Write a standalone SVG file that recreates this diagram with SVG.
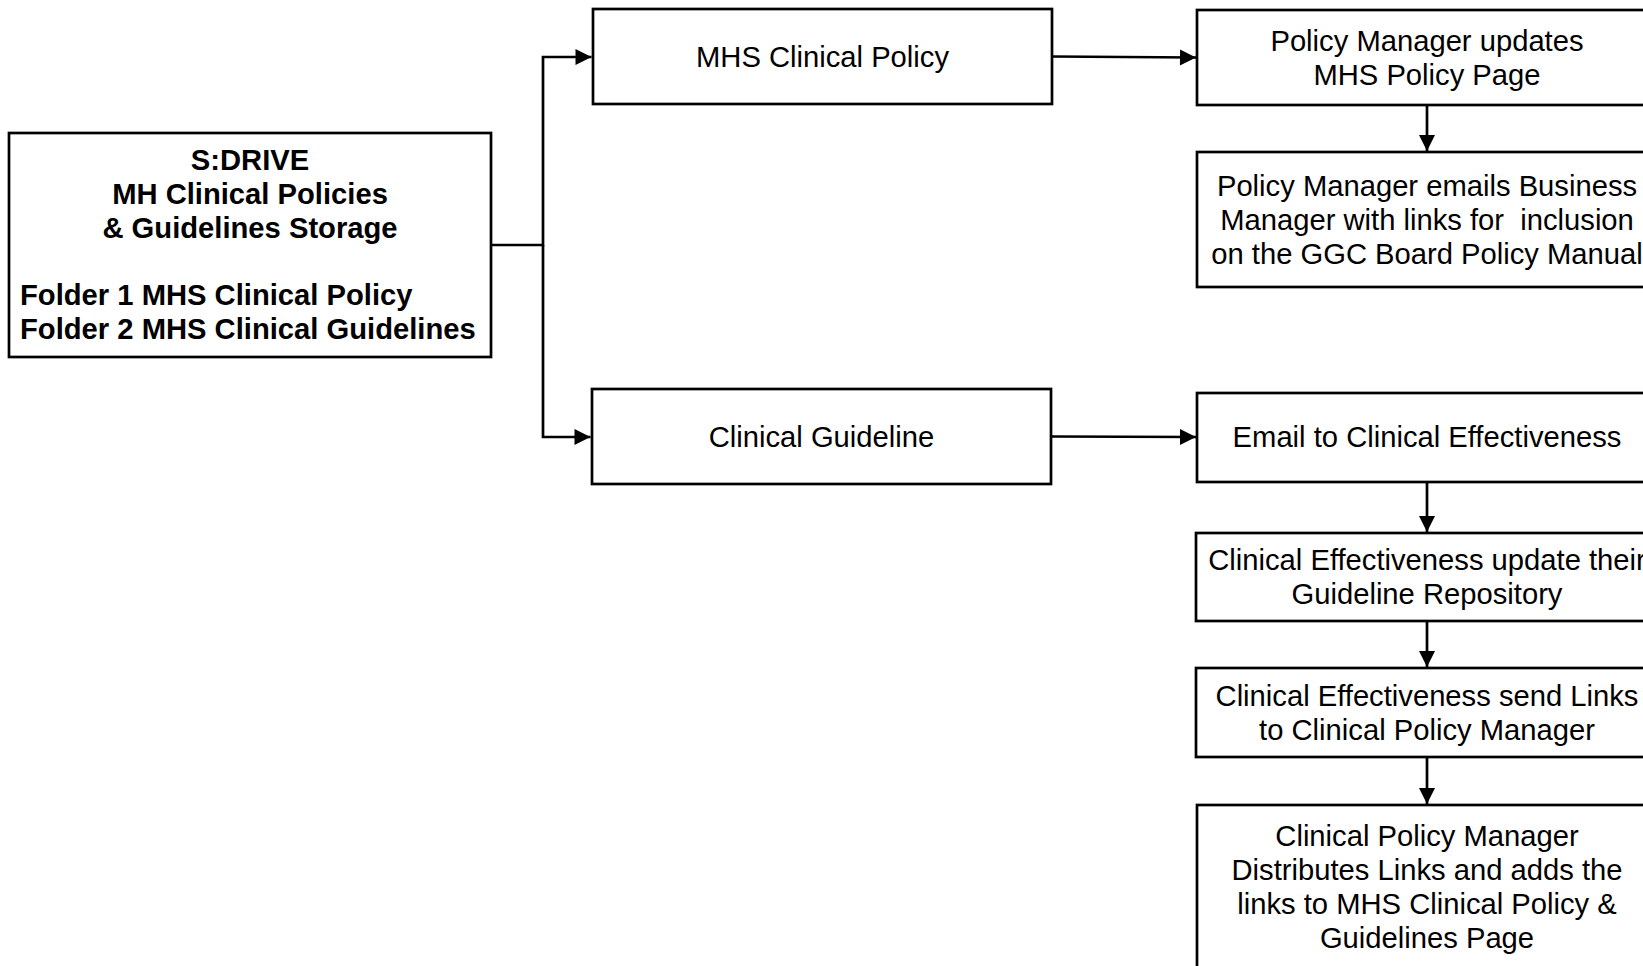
<svg xmlns="http://www.w3.org/2000/svg" width="1643" height="966" viewBox="0 0 1643 966">
<style>
.box{fill:#fff;stroke:#000;stroke-width:2.7}
.t{font-family:'Liberation Sans',Arimo,Arial,Helvetica,sans-serif;font-size:29.2px;fill:#000;text-anchor:middle}
.b{font-weight:bold}
.l{text-anchor:start}
.c{fill:none;stroke:#000;stroke-width:2.7}
</style>
<defs>
<marker id="ah" markerWidth="17" markerHeight="17" refX="16" refY="8" orient="auto" markerUnits="userSpaceOnUse" overflow="visible">
<path d="M0,0 L16,8 L0,16 Z" fill="#000"/>
</marker>
</defs>
<rect width="1643" height="966" fill="#fff"/>
<g id="connectors">
<polyline class="c" points="491,245 543,245 543,57 591.5,57" marker-end="url(#ah)"/>
<polyline class="c" points="543,245 543,437 590.5,437" marker-end="url(#ah)"/>
<line class="c" x1="1052" y1="56.5" x2="1196" y2="57.5" marker-end="url(#ah)"/>
<line class="c" x1="1051" y1="436.5" x2="1196" y2="437" marker-end="url(#ah)"/>
<line class="c" x1="1427" y1="105" x2="1427" y2="151" marker-end="url(#ah)"/>
<line class="c" x1="1427" y1="482" x2="1427" y2="532" marker-end="url(#ah)"/>
<line class="c" x1="1427" y1="621" x2="1427" y2="667" marker-end="url(#ah)"/>
<line class="c" x1="1427" y1="757" x2="1427" y2="804" marker-end="url(#ah)"/>
</g>
<g id="sdrive">
<rect class="box" x="9" y="133" width="482" height="224"/>
<text class="t b" x="250" y="170">S:DRIVE</text>
<text class="t b" x="250" y="204">MH Clinical Policies</text>
<text class="t b" x="250" y="238">&amp; Guidelines Storage</text>
<text class="t b l" x="20" y="305">Folder 1 MHS Clinical Policy</text>
<text class="t b l" x="20" y="339">Folder 2 MHS Clinical Guidelines</text>
</g>
<g id="mhs-policy">
<rect class="box" x="593" y="9" width="459" height="95"/>
<text class="t" x="822.5" y="67">MHS Clinical Policy</text>
</g>
<g id="clinical-guideline">
<rect class="box" x="592" y="389" width="459" height="95"/>
<text class="t" x="821.5" y="447">Clinical Guideline</text>
</g>
<g id="pm-updates">
<rect class="box" x="1197" y="10" width="470" height="95"/>
<text class="t" x="1427" y="51">Policy Manager updates</text>
<text class="t" x="1427" y="85">MHS Policy Page</text>
</g>
<g id="pm-emails">
<rect class="box" x="1197" y="152" width="470" height="135"/>
<text class="t" x="1427" y="196">Policy Manager emails Business</text>
<text class="t" x="1427" y="230" xml:space="preserve">Manager with links for  inclusion</text>
<text class="t" x="1427" y="264">on the GGC Board Policy Manual</text>
</g>
<g id="email-ce">
<rect class="box" x="1197" y="393" width="470" height="89"/>
<text class="t" x="1427" y="447">Email to Clinical Effectiveness</text>
</g>
<g id="ce-update">
<rect class="box" x="1196" y="533" width="470" height="88"/>
<text class="t" x="1427" y="570">Clinical Effectiveness update their</text>
<text class="t" x="1427" y="604">Guideline Repository</text>
</g>
<g id="ce-send">
<rect class="box" x="1196" y="668" width="470" height="89"/>
<text class="t" x="1427" y="706">Clinical Effectiveness send Links</text>
<text class="t" x="1427" y="740">to Clinical Policy Manager</text>
</g>
<g id="cpm-distributes">
<rect class="box" x="1197" y="805" width="470" height="200"/>
<text class="t" x="1427" y="846">Clinical Policy Manager</text>
<text class="t" x="1427" y="880">Distributes Links and adds the</text>
<text class="t" x="1427" y="914">links to MHS Clinical Policy &amp;</text>
<text class="t" x="1427" y="948">Guidelines Page</text>
</g>
</svg>
